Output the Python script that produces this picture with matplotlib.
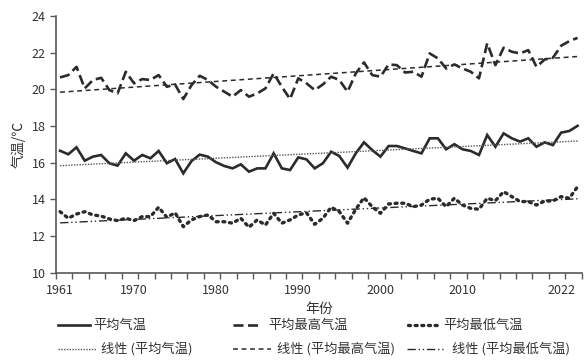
import numpy as np
import matplotlib
matplotlib.use("Agg")
import matplotlib.pyplot as plt
from matplotlib.lines import Line2D

plt.rcParams['font.family'] = ['Noto Sans CJK SC', 'DejaVu Sans']

years = list(range(1961, 2025))

mean_temp = [16.64, 16.45, 16.83, 16.10, 16.32, 16.41, 15.96, 15.83, 16.50, 16.10,
             16.41, 16.23, 16.63, 15.96, 16.19, 15.41, 16.08, 16.43, 16.32, 16.01,
             15.81, 15.68, 15.90, 15.50, 15.68, 15.68, 16.50, 15.68, 15.59, 16.28,
             16.17, 15.68, 15.96, 16.59, 16.35, 15.72, 16.50, 17.10, 16.68, 16.32,
             16.90, 16.90, 16.77, 16.63, 16.50, 17.32, 17.32, 16.72, 17.00, 16.72,
             16.63, 16.41, 17.50, 16.86, 17.59, 17.32, 17.14, 17.32, 16.86, 17.10,
             16.95, 17.63, 17.72, 18.00]

max_temp = [20.64, 20.77, 21.22, 20.04, 20.50, 20.62, 19.95, 19.77, 20.95, 20.32,
            20.55, 20.50, 20.77, 20.13, 20.26, 19.46, 20.22, 20.73, 20.50, 20.13,
            19.86, 19.59, 19.95, 19.59, 19.77, 20.04, 20.86, 20.13, 19.46, 20.59,
            20.32, 19.95, 20.26, 20.68, 20.50, 19.86, 20.86, 21.46, 20.77, 20.68,
            21.35, 21.31, 20.91, 20.95, 20.68, 21.95, 21.68, 21.13, 21.35, 21.13,
            20.95, 20.59, 22.50, 21.31, 22.26, 22.04, 21.95, 22.13, 21.22, 21.62,
            21.71, 22.37, 22.62, 22.80]

min_temp = [13.32, 12.96, 13.19, 13.32, 13.14, 13.08, 12.92, 12.83, 12.96, 12.83,
            13.05, 13.05, 13.56, 13.01, 13.26, 12.50, 12.87, 13.05, 13.14, 12.77,
            12.77, 12.69, 12.96, 12.47, 12.87, 12.59, 13.23, 12.69, 12.87, 13.14,
            13.26, 12.63, 12.96, 13.56, 13.32, 12.69, 13.45, 14.08, 13.59, 13.23,
            13.74, 13.78, 13.78, 13.59, 13.68, 14.00, 14.05, 13.59, 14.05, 13.68,
            13.50, 13.45, 14.05, 13.92, 14.41, 14.14, 13.87, 13.87, 13.68, 13.90,
            13.90, 14.14, 14.05, 14.68]

tick_years = [1961, 1970, 1980, 1990, 2000, 2010, 2022]
y_ticks = [10, 12, 14, 16, 18, 20, 22, 24]

labels = ['平均气温', '平均最高气温', '平均最低气温',
          '线性 (平均气温)', '线性 (平均最高气温)', '线性 (平均最低气温)']

c = '#2b2b2b'
x = np.array(years, dtype=float)
W, H = 588, 360

fig = plt.figure(figsize=(5.88, 3.6), dpi=100)
ax = fig.add_axes([0.0952, 0.243, 0.894, 0.713])

def trend(vals):
    p = np.polyfit(x, np.array(vals), 1)
    return np.polyval(p, x)

styles = {
    'mean': dict(color=c, lw=1.9, solid_joinstyle='miter'),
    'max': dict(color=c, lw=1.9, dashes=(3.8, 1.7)),
    'min': dict(color=c, lw=2.4, dashes=(0.6, 1.4), dash_capstyle='round'),
    'tmean': dict(color='#555555', lw=1.0, dashes=(1, 1)),
    'tmax': dict(color=c, lw=1.1, dashes=(3.2, 2.4)),
    'tmin': dict(color=c, lw=1.0, dashes=(6, 2, 1, 2, 1, 2)),
}

ax.plot(x, mean_temp, **styles['mean'])
ax.plot(x, max_temp, **styles['max'])
ax.plot(x, min_temp, **styles['min'])
ax.plot(x, trend(mean_temp), **styles['tmean'])
ax.plot(x, trend(max_temp), **styles['tmax'])
ax.plot(x, trend(min_temp), **styles['tmin'])

ax.set_xlim(1960.5, 2024.5)
ax.set_ylim(10, 24)
ax.set_yticks(y_ticks)
ax.set_xticks(tick_years)
ax.set_xticks(np.arange(1960.5, 2025, 2), minor=True)
ax.tick_params(axis='x', which='major', length=0, pad=8, labelsize=9, labelcolor='#333333')
ax.tick_params(axis='x', which='minor', length=4, width=1, color='#595959', direction='out')
ax.tick_params(axis='y', which='major', length=4, width=1, color='#595959', direction='out',
               labelsize=9, labelcolor='#333333')
for s in ['top', 'right']:
    ax.spines[s].set_visible(False)
for s in ['left', 'bottom']:
    ax.spines[s].set_color('#595959')
    ax.spines[s].set_linewidth(1.2)

ax.set_xlabel('年份', fontsize=10, color='#333333', labelpad=4)
ax.set_ylabel('气温/℃', fontsize=10, color='#333333', labelpad=4)

# legend drawn manually: (key, handle x0, handle x1, text x, row y) in pixels
entries = [
    ('mean', 58, 90, 93, 325, labels[0]),
    ('max', 233, 258, 268, 325, labels[1]),
    ('min', 408, 438, 443, 325, labels[2]),
    ('tmean', 58, 96, 101, 349, labels[3]),
    ('tmax', 233, 271, 277, 349, labels[4]),
    ('tmin', 407, 443, 452, 349, labels[5]),
]
for key, x0, x1, tx, yy, lab in entries:
    fy = 1 - yy / H
    ln = Line2D([x0 / W, x1 / W], [fy, fy], transform=fig.transFigure, **styles[key])
    fig.add_artist(ln)
    fig.text(tx / W, fy, lab, fontsize=9.5, color='#333333', va='center', ha='left')

fig.savefig('out.png', dpi=100)
